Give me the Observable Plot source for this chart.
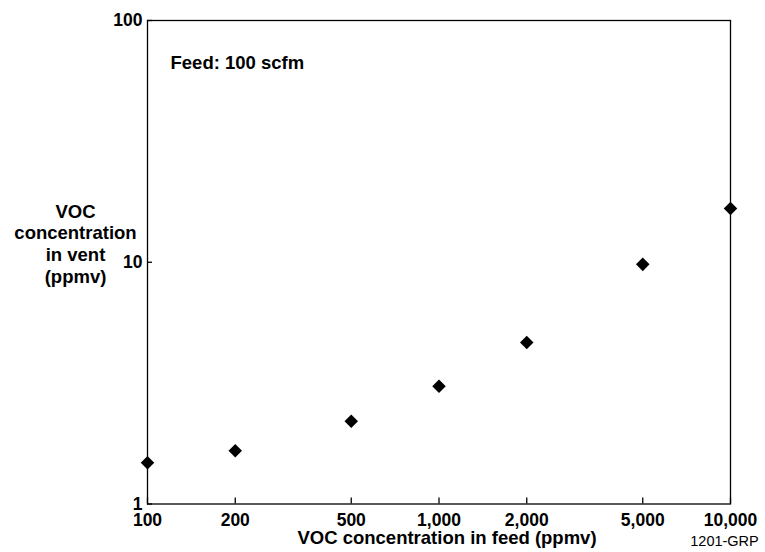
<!DOCTYPE html>
<html>
<head>
<meta charset="utf-8">
<script src="https://cdn.jsdelivr.net/npm/d3@7"></script>
<script src="https://cdn.jsdelivr.net/npm/@observablehq/plot@0.6"></script>
<style>
  html, body { margin: 0; padding: 0; background: #fff; }
</style>
</head>
<body>
<div id="chart"></div>
<script>
const feed = [100, 200, 500, 1000, 2000, 5000, 10000];
const vent = [1.48, 1.66, 2.20, 3.07, 4.66, 9.8, 16.7];
const xTicks = [100, 200, 500, 1000, 2000, 5000, 10000];
const yTicks = [1, 10, 100];
const xTitle = "VOC concentration in feed (ppmv)";
const yTitle = "VOC\nconcentration\nin vent\n(ppmv)";
const note = "Feed: 100 scfm";
const figId = "1201-GRP";

const points = feed.map((f, i) => ({feed: f, vent: vent[i]}));
const fmt = d3.format(",");

const chart = Plot.plot({
  width: 765,
  height: 552,
  marginLeft: 147,
  marginRight: 35,
  marginTop: 20,
  marginBottom: 48.5,
  style: {fontFamily: "'Liberation Sans', Arial, Helvetica, sans-serif", fontSize: "17.5px", fontWeight: "bold", color: "black", background: "white"},
  x: {type: "log", domain: [100, 10000]},
  y: {type: "log", domain: [1, 100]},
  marks: [
    Plot.frame({stroke: "black", strokeWidth: 1.3}),
    Plot.axisX(xTicks, {tickSize: -6, tickPadding: 16, strokeWidth: 1.3, tickFormat: () => "", label: null}),
    Plot.text(xTicks, {x: d => d, text: d => fmt(d), frameAnchor: "bottom", lineAnchor: "top", textAnchor: "middle", dy: 10, fontSize: 17.5}),
    Plot.axisY(yTicks, {tickSize: -5, tickPadding: 10, strokeWidth: 1.3, tickFormat: d => String(d), label: null, fontSize: 17.5}),
    Plot.dot(points, {x: "feed", y: "vent", symbol: "diamond2", fill: "black", stroke: "none", r: 6.1}),
    Plot.text([note], {text: d => d, frameAnchor: "top-left", textAnchor: "start", dx: 23, dy: 35, fontSize: 18.5}),
    Plot.text([yTitle], {text: d => d, frameAnchor: "left", textAnchor: "middle", dx: -72, dy: -19, lineHeight: 1.17, fontSize: 18.5}),
    Plot.text([xTitle], {text: d => d, frameAnchor: "bottom", textAnchor: "middle", dx: 8, dy: 40, fontSize: 18.5}),
    Plot.text([figId], {text: d => d, frameAnchor: "bottom-right", textAnchor: "middle", dx: -6, dy: 42, fontSize: 14.5, fontWeight: "normal"})
  ]
});
document.getElementById("chart").appendChild(chart);
</script>
</body>
</html>
